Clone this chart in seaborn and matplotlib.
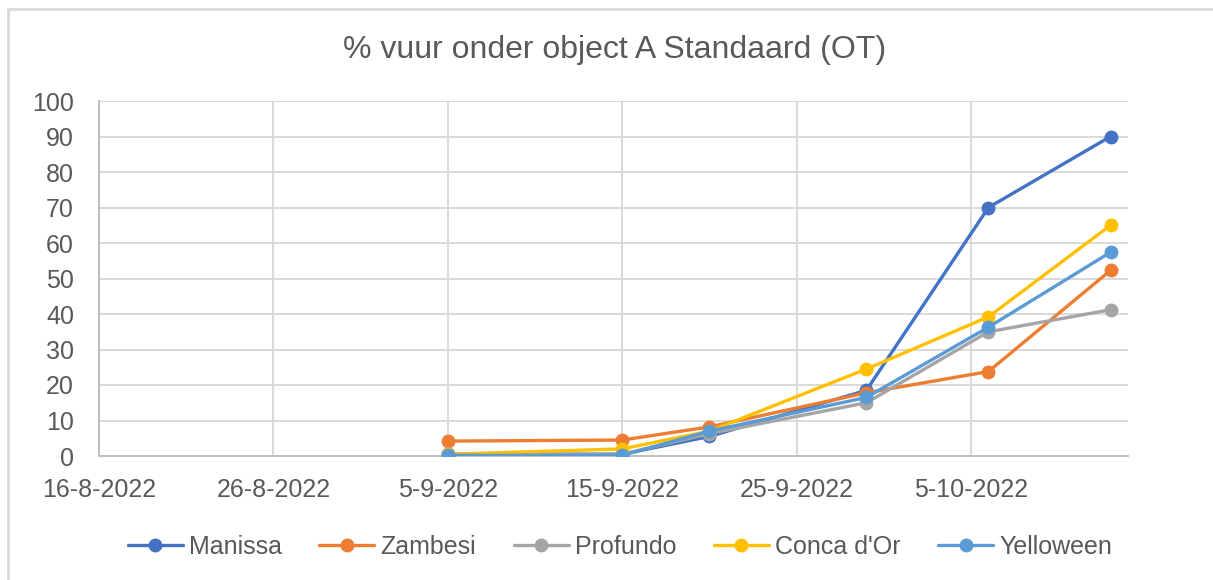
import datetime as dt
import pandas as pd
import seaborn as sns
import matplotlib
matplotlib.use("Agg")
import matplotlib.pyplot as plt
import matplotlib.dates as mdates
from matplotlib.lines import Line2D

# waarnemingsdata (% vuur onder object A Standaard)
datums = ["2022-09-05", "2022-09-15", "2022-09-20", "2022-09-29", "2022-10-06", "2022-10-13"]
rassen = ["Manissa", "Zambesi", "Profundo", "Conca d'Or", "Yelloween"]
manissa = [0.5, 0.5, 5.5, 18.5, 70.0, 90.0]
zambesi = [4.2, 4.5, 8.2, 17.8, 23.8, 52.3]
profundo = [0.5, 0.5, 6.3, 15.0, 35.0, 41.2]
conca = [0.5, 2.0, 7.0, 24.5, 39.2, 65.0]
yelloween = [0.2, 0.2, 7.0, 16.5, 36.3, 57.4]
kleuren = ["#4472C4", "#ED7D31", "#A5A5A5", "#FFC000", "#5B9BD5"]

x_ticks = pd.date_range("2022-08-16", "2022-10-05", freq="10D")

rows = []
for ras, vals in zip(rassen, [manissa, zambesi, profundo, conca, yelloween]):
    for d, v in zip(datums, vals):
        rows.append({"datum": pd.Timestamp(d), "pct": v, "ras": ras})
df = pd.DataFrame(rows)

sns.set_theme(style="white")
plt.rcParams["font.family"] = ["Liberation Sans", "DejaVu Sans"]
grey_txt = "#595959"
grid_c = "#d9d9d9"

fig = plt.figure(figsize=(12.13, 5.8), dpi=100)
ax = fig.add_axes([99 / 1213, 1 - 456 / 580, (1128 - 99) / 1213, (456 - 101) / 580])

sns.lineplot(data=df, x="datum", y="pct", hue="ras", hue_order=rassen,
             palette=kleuren, marker="o", markersize=10, markeredgewidth=0,
             linewidth=2.4, ax=ax, legend=False, zorder=3)

ax.set_xlim(pd.Timestamp("2022-08-16"), pd.Timestamp("2022-10-14"))
ax.set_ylim(0, 100)
ax.set_yticks(range(0, 101, 10))
ax.set_xticks(x_ticks)
ax.xaxis.set_major_formatter(
    matplotlib.ticker.FuncFormatter(
        lambda v, p: "{d.day}-{d.month}-{d.year}".format(d=mdates.num2date(v))))
ax.set_xlabel("")
ax.set_ylabel("")

ax.grid(True, color=grid_c, linewidth=1.4)
ax.set_axisbelow(True)
for s in ["top", "right"]:
    ax.spines[s].set_visible(False)
for s in ["left", "bottom"]:
    ax.spines[s].set_color("#bfbfbf")
    ax.spines[s].set_linewidth(1.4)
ax.tick_params(axis="y", length=0, pad=18, labelsize=18, labelcolor=grey_txt)
ax.tick_params(axis="x", length=0, pad=16, labelsize=18, labelcolor=grey_txt)

fig.text(615 / 1213, 1 - 50 / 580, "% vuur onder object A Standaard (OT)",
         ha="center", va="center", fontsize=23, color=grey_txt)

handles = [Line2D([], [], color=c, marker="o", markersize=10, markeredgewidth=0,
                  linewidth=2.4) for c in kleuren]
fig.legend(handles, rassen, loc="center", bbox_to_anchor=(620 / 1213, 1 - 547 / 580),
           ncol=5, frameon=False, fontsize=18, handlelength=2.2, handletextpad=0.25,
           columnspacing=1.5, labelcolor=grey_txt)

# rand van de grafiek
fig.add_artist(Line2D([8 / 1213, 8 / 1213], [0, 1 - 9 / 580], color="#d9d9d9",
                      linewidth=2, transform=fig.transFigure))
fig.add_artist(Line2D([8 / 1213, 1], [1 - 9 / 580, 1 - 9 / 580], color="#d9d9d9",
                      linewidth=2, transform=fig.transFigure))

fig.savefig("out.png", dpi=100)
